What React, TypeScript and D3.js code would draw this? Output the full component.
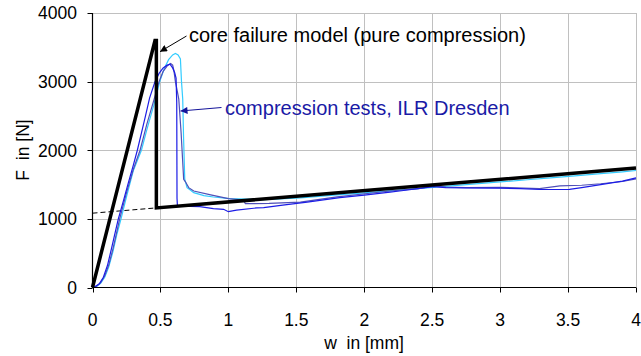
import React from "react";
import * as d3 from "d3";

type P = [number, number];

const xTicks = [0, 0.5, 1, 1.5, 2, 2.5, 3, 3.5, 4];
const xTickLabels = ["0", "0.5", "1", "1.5", "2", "2.5", "3", "3.5", "4"];
const yTicks = [0, 1000, 2000, 3000, 4000];
const yTickLabels = ["0", "1000", "2000", "3000", "4000"];

// core failure model (pure compression)
const modelLine: P[] = [
  [0, 0], [0.46, 3600], [0.47, 3600], [0.47, 1160], [4.0, 1740],
];
const modelExtension: P[] = [[0, 1083], [0.47, 1160]];

// compression tests, ILR Dresden
const testBlue: P[] = [
  [0, 0], [0.02, 15], [0.05, 55], [0.08, 150], [0.11, 320], [0.14, 570], [0.17, 830],
  [0.19, 1000], [0.23, 1280], [0.26, 1500], [0.3, 1780], [0.33, 2000], [0.36, 2250],
  [0.39, 2500], [0.42, 2760], [0.46, 3000], [0.49, 3120], [0.52, 3200], [0.55, 3240],
  [0.57, 3255], [0.59, 3200], [0.605, 3130], [0.615, 3050], [0.62, 2700], [0.622, 1300],
  [0.625, 1190], [0.65, 1187], [0.72, 1180], [0.79, 1178], [0.89, 1150], [0.965, 1139],
  [1.0, 1105], [1.06, 1128], [1.21, 1160], [1.26, 1165], [1.4, 1200], [1.58, 1245],
  [1.82, 1309], [2.0, 1345], [2.19, 1391], [2.26, 1406], [2.51, 1470], [2.6, 1455],
  [2.75, 1450], [3.0, 1448], [3.15, 1440], [3.29, 1428], [3.51, 1430], [3.6, 1455],
  [3.74, 1500], [3.9, 1550], [4.0, 1598],
];
const testPurple: P[] = [
  [0, 0], [0.03, 20], [0.06, 70], [0.09, 170], [0.12, 330], [0.15, 560], [0.18, 820],
  [0.2, 1000], [0.25, 1380], [0.3, 1720], [0.35, 2000], [0.4, 2380], [0.45, 2720],
  [0.49, 3000], [0.52, 3150], [0.55, 3230], [0.575, 3265], [0.59, 3240], [0.6, 3150],
  [0.61, 3000], [0.62, 2900], [0.635, 2745], [0.652, 2258], [0.671, 1577], [0.684, 1540],
  [0.708, 1455], [0.745, 1406], [0.87, 1350], [1.0, 1295], [1.11, 1275], [1.125, 1222],
  [1.3, 1225], [1.53, 1245], [1.8, 1320], [2.19, 1406], [2.4, 1440], [2.51, 1479],
  [2.6, 1462], [2.75, 1455], [3.0, 1460], [3.29, 1440], [3.44, 1480], [3.6, 1490],
  [3.74, 1512], [3.9, 1545], [4.0, 1582],
];
const testCyan: P[] = [
  [0, 0], [0.03, 15], [0.06, 60], [0.09, 150], [0.12, 300], [0.15, 520], [0.18, 780],
  [0.21, 1000], [0.25, 1320], [0.3, 1700], [0.36, 2000], [0.4, 2300], [0.45, 2650],
  [0.495, 3000], [0.53, 3200], [0.56, 3320], [0.59, 3390], [0.61, 3410], [0.63, 3390],
  [0.647, 3330], [0.655, 3000], [0.664, 2745], [0.67, 2200], [0.679, 1577], [0.696, 1455],
  [0.72, 1420], [0.745, 1382], [0.82, 1340], [0.89, 1319], [1.01, 1295], [1.26, 1280],
  [1.53, 1305], [1.8, 1350], [2.0, 1380], [2.25, 1420], [2.51, 1460], [2.75, 1500],
  [3.0, 1538], [3.2, 1570], [3.37, 1598], [3.55, 1628], [3.74, 1658], [3.9, 1685],
  [4.0, 1705],
];

const W = 641;
const H = 356;
const x = d3.scaleLinear().domain([0, 4]).range([92.5, 636]);
const y = d3.scaleLinear().domain([0, 4000]).range([287.5, 13]);
const line = d3.line<P>().x((d) => x(d[0])).y((d) => y(d[1]));

const FONT = "'Liberation Sans', Arial, sans-serif";

export default function App() {
  return (
    <svg
      width={W}
      height={H}
      style={{ position: "absolute", left: 0, top: 0, background: "#fff" }}
      fontFamily={FONT}
    >
      <defs>
        <marker id="arrBlack" viewBox="0 0 10 10" refX="10" refY="5" markerWidth="10" markerHeight="7" markerUnits="userSpaceOnUse" orient="auto">
          <path d="M0,0 L10,5 L0,10 z" fill="#000" />
        </marker>
        <marker id="arrNavy" viewBox="0 0 10 10" refX="10" refY="5" markerWidth="10" markerHeight="7" markerUnits="userSpaceOnUse" orient="auto">
          <path d="M0,0 L10,5 L0,10 z" fill="#14149a" />
        </marker>
      </defs>
      <rect width={W} height={H} fill="#fff" />
      {/* grid */}
      {xTicks.slice(1).map((t) => (
        <line key={"gx" + t} x1={Math.round(x(t)) + 0.5} x2={Math.round(x(t)) + 0.5} y1={y(0)} y2={y(4000)} stroke="#c0c0c0" strokeWidth={1} />
      ))}
      {yTicks.slice(1).map((t) => (
        <line key={"gy" + t} x1={x(0)} x2={x(4)} y1={Math.round(y(t)) + 0.5} y2={Math.round(y(t)) + 0.5} stroke="#c0c0c0" strokeWidth={1} />
      ))}
      {/* dashed extension */}
      <path d={line(modelExtension) || ""} fill="none" stroke="#000" strokeWidth={1} strokeDasharray="5,3" />
      {/* test curves */}
      <path d={line(testCyan) || ""} fill="none" stroke="#33ccff" strokeWidth={1.2} />
      <path d={line(testPurple) || ""} fill="none" stroke="#4f4fb8" strokeWidth={1.2} />
      <path d={line(testBlue) || ""} fill="none" stroke="#1c1ce6" strokeWidth={1.2} />
      {/* model */}
      <path d={line(modelLine) || ""} fill="none" stroke="#000" strokeWidth={3.5} strokeLinejoin="miter" />
      {/* axes */}
      <line x1={x(0)} x2={x(0)} y1={y(0) + 0.5} y2={y(4000)} stroke="#000" strokeWidth={1.2} />
      <line x1={x(0)} x2={x(4)} y1={y(0)} y2={y(0)} stroke="#000" strokeWidth={1.2} />
      {yTicks.map((t, i) => (
        <g key={"yt" + t}>
          <line x1={x(0) - 5} x2={x(0)} y1={Math.round(y(t)) + 0.5} y2={Math.round(y(t)) + 0.5} stroke="#000" />
          <text x={77} y={y(t)} dy="0.36em" textAnchor="end" fontSize={17.5} fill="#000">
            {yTickLabels[i]}
          </text>
        </g>
      ))}
      {xTicks.map((t, i) => (
        <g key={"xt" + t}>
          <line x1={Math.round(x(t)) + 0.5} x2={Math.round(x(t)) + 0.5} y1={y(0)} y2={y(0) + 5} stroke="#000" />
          <text x={x(t)} y={326} textAnchor="middle" fontSize={17.5} fill="#000">
            {xTickLabels[i]}
          </text>
        </g>
      ))}
      <text x={364} y={349} textAnchor="middle" fontSize={17.5} fill="#000" style={{ whiteSpace: "pre" }}>
        {"w  in [mm]"}
      </text>
      <text transform="translate(29,150) rotate(-90)" textAnchor="middle" fontSize={17.5} fill="#000" style={{ whiteSpace: "pre" }}>
        {"F  in [N]"}
      </text>
      {/* annotations */}
      <line x1={186.5} y1={36} x2={160} y2={51.7} stroke="#000" strokeWidth={1} markerEnd="url(#arrBlack)" />
      <text x={189} y={41.7} fontSize={20} fill="#000">
        core failure model (pure compression)
      </text>
      <line x1={221.5} y1={107.5} x2={180.5} y2={111} stroke="#14149a" strokeWidth={1} markerEnd="url(#arrNavy)" />
      <text x={225} y={115} fontSize={20} fill="#1a1aa6">
        compression tests, ILR Dresden
      </text>
    </svg>
  );
}
